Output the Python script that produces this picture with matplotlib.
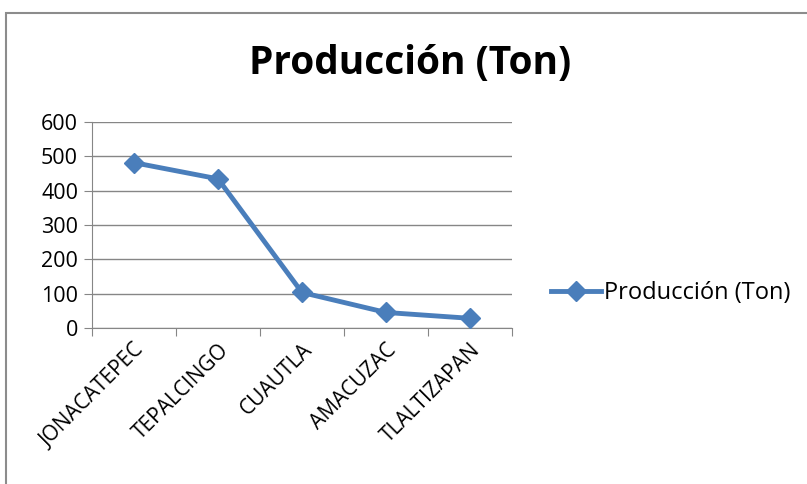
import matplotlib
matplotlib.use("Agg")
import matplotlib.pyplot as plt
from matplotlib.patches import Rectangle

categories = ["JONACATEPEC", "TEPALCINGO", "CUAUTLA", "AMACUZAC", "TLALTIZAPAN"]
values = [481, 434, 104, 46, 29]
yticks = [0, 100, 200, 300, 400, 500, 600]
series_name = "Producción (Ton)"
title = "Producción (Ton)"

plt.rcParams['font.family'] = ['Open Sans', 'DejaVu Sans']

W, H = 807, 484
fig = plt.figure(figsize=(W / 100, H / 100), dpi=100)

# chart border (cropped on right and bottom)
fig.patches.append(Rectangle((6.5 / W, -0.1), 2, (H - 12.5) / H + 0.1,
                             transform=fig.transFigure, fill=False,
                             edgecolor="#8c8c8c", linewidth=1.5))

ax = fig.add_axes([92 / W, (H - 328.3) / H, (512 - 92) / W, (328.3 - 121.7) / H])
x = list(range(len(categories)))
line, = ax.plot(x, values, color="#4A7EBB", linewidth=3.5, marker="D",
                markersize=10, markerfacecolor="#4A7EBB", markeredgecolor="#4A7EBB",
                label=series_name, zorder=3, clip_on=False)

ax.set_xlim(-0.5, len(categories) - 0.5)
ax.set_ylim(0, 600)
ax.set_yticks(yticks)
ax.set_yticklabels([str(v) for v in yticks], fontsize=15.5)
ax.yaxis.grid(True, color="#868686", linewidth=1)
ax.set_axisbelow(True)

# x ticks at category boundaries, labels at centres
ax.set_xticks([i - 0.5 for i in range(len(categories) + 1)])
ax.set_xticklabels([])
ax.set_xticks(x, minor=True)
ax.set_xticklabels(categories, minor=True, rotation=45, ha="right",
                   rotation_mode="anchor", fontsize=15)
ax.tick_params(axis="x", which="minor", length=0, pad=8)
ax.tick_params(axis="x", which="major", length=6, color="#868686", direction="out")
ax.tick_params(axis="y", length=6, color="#868686", direction="out", pad=4)

for s in ["top", "right"]:
    ax.spines[s].set_visible(False)
ax.spines["left"].set_color("#868686")
ax.spines["bottom"].set_color("#868686")

fig.text(410 / W, 1 - 63 / H, title, ha="center", va="center",
         fontsize=28, fontweight="bold")

fig.legend(handles=[line], labels=[series_name], loc="center left",
           bbox_to_anchor=(551 / W, 1 - 293 / H), frameon=False, fontsize=17,
           handlelength=2.1, handletextpad=0.15, borderaxespad=0, borderpad=0)

fig.savefig("out.png", dpi=100, facecolor="white")
